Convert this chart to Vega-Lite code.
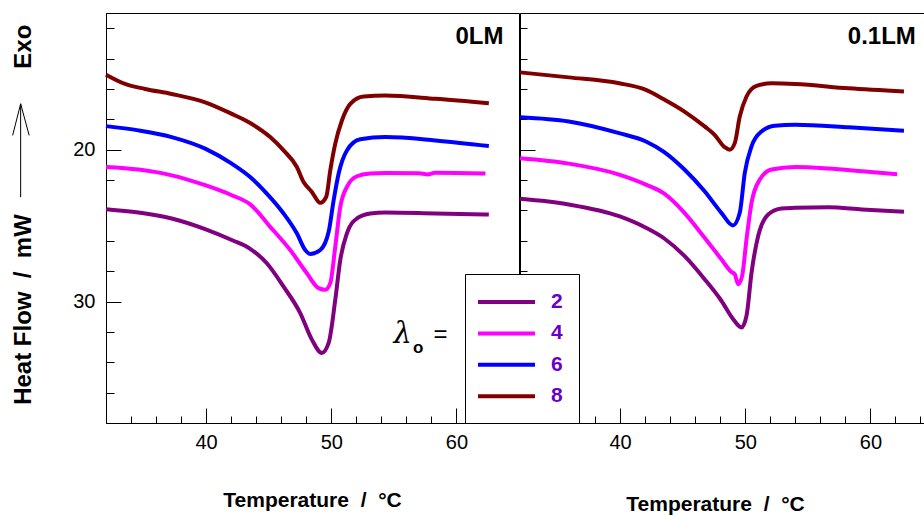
{
  "$schema": "https://vega.github.io/schema/vega-lite/v6.json",
  "autosize": {"type": "pad"},
  "padding": {"left": 10, "top": 12, "right": 0, "bottom": 0},
  "background": "white",
  "spacing": -9,
  "datasets": {
    "curves": [
      {"panel": "0LM", "lam": "2", "T": 32, "HF": 23.92},
      {"panel": "0LM", "lam": "2", "T": 34.59, "HF": 24.14},
      {"panel": "0LM", "lam": "2", "T": 37.25, "HF": 24.53},
      {"panel": "0LM", "lam": "2", "T": 39.92, "HF": 25.23},
      {"panel": "0LM", "lam": "2", "T": 42.05, "HF": 25.95},
      {"panel": "0LM", "lam": "2", "T": 43.52, "HF": 26.53},
      {"panel": "0LM", "lam": "2", "T": 44.85, "HF": 27.48},
      {"panel": "0LM", "lam": "2", "T": 46.19, "HF": 29.02},
      {"panel": "0LM", "lam": "2", "T": 47.52, "HF": 30.76},
      {"panel": "0LM", "lam": "2", "T": 48.45, "HF": 32.51},
      {"panel": "0LM", "lam": "2", "T": 49.25, "HF": 33.39},
      {"panel": "0LM", "lam": "2", "T": 49.79, "HF": 32.73},
      {"panel": "0LM", "lam": "2", "T": 50.32, "HF": 29.89},
      {"panel": "0LM", "lam": "2", "T": 50.72, "HF": 27.26},
      {"panel": "0LM", "lam": "2", "T": 51.25, "HF": 25.51},
      {"panel": "0LM", "lam": "2", "T": 52.05, "HF": 24.53},
      {"panel": "0LM", "lam": "2", "T": 53.12, "HF": 24.2},
      {"panel": "0LM", "lam": "2", "T": 54.32, "HF": 24.13},
      {"panel": "0LM", "lam": "2", "T": 58.32, "HF": 24.2},
      {"panel": "0LM", "lam": "2", "T": 62.59, "HF": 24.27},

      {"panel": "0LM", "lam": "4", "T": 32, "HF": 21.14},
      {"panel": "0LM", "lam": "4", "T": 34.59, "HF": 21.31},
      {"panel": "0LM", "lam": "4", "T": 37.25, "HF": 21.69},
      {"panel": "0LM", "lam": "4", "T": 39.92, "HF": 22.34},
      {"panel": "0LM", "lam": "4", "T": 42.05, "HF": 23.0},
      {"panel": "0LM", "lam": "4", "T": 43.52, "HF": 23.6},
      {"panel": "0LM", "lam": "4", "T": 45.12, "HF": 25.08},
      {"panel": "0LM", "lam": "4", "T": 46.72, "HF": 26.61},
      {"panel": "0LM", "lam": "4", "T": 48.05, "HF": 28.14},
      {"panel": "0LM", "lam": "4", "T": 48.99, "HF": 29.12},
      {"panel": "0LM", "lam": "4", "T": 49.52, "HF": 29.23},
      {"panel": "0LM", "lam": "4", "T": 49.92, "HF": 28.79},
      {"panel": "0LM", "lam": "4", "T": 50.32, "HF": 26.39},
      {"panel": "0LM", "lam": "4", "T": 50.72, "HF": 23.77},
      {"panel": "0LM", "lam": "4", "T": 51.25, "HF": 22.45},
      {"panel": "0LM", "lam": "4", "T": 52.05, "HF": 21.75},
      {"panel": "0LM", "lam": "4", "T": 53.12, "HF": 21.57},
      {"panel": "0LM", "lam": "4", "T": 54.32, "HF": 21.53},
      {"panel": "0LM", "lam": "4", "T": 57.0, "HF": 21.55},
      {"panel": "0LM", "lam": "4", "T": 57.7, "HF": 21.63},
      {"panel": "0LM", "lam": "4", "T": 58.3, "HF": 21.52},
      {"panel": "0LM", "lam": "4", "T": 62.32, "HF": 21.57},

      {"panel": "0LM", "lam": "6", "T": 32, "HF": 18.45},
      {"panel": "0LM", "lam": "6", "T": 34.59, "HF": 18.73},
      {"panel": "0LM", "lam": "6", "T": 37.25, "HF": 19.17},
      {"panel": "0LM", "lam": "6", "T": 39.92, "HF": 19.93},
      {"panel": "0LM", "lam": "6", "T": 42.05, "HF": 20.92},
      {"panel": "0LM", "lam": "6", "T": 43.52, "HF": 21.8},
      {"panel": "0LM", "lam": "6", "T": 44.85, "HF": 22.89},
      {"panel": "0LM", "lam": "6", "T": 46.19, "HF": 24.2},
      {"panel": "0LM", "lam": "6", "T": 47.25, "HF": 25.51},
      {"panel": "0LM", "lam": "6", "T": 47.92, "HF": 26.61},
      {"panel": "0LM", "lam": "6", "T": 48.32, "HF": 26.87},
      {"panel": "0LM", "lam": "6", "T": 49.12, "HF": 26.61},
      {"panel": "0LM", "lam": "6", "T": 49.79, "HF": 25.41},
      {"panel": "0LM", "lam": "6", "T": 50.19, "HF": 23.33},
      {"panel": "0LM", "lam": "6", "T": 50.59, "HF": 21.57},
      {"panel": "0LM", "lam": "6", "T": 51.25, "HF": 20.05},
      {"panel": "0LM", "lam": "6", "T": 52.32, "HF": 19.32},
      {"panel": "0LM", "lam": "6", "T": 54.32, "HF": 19.17},
      {"panel": "0LM", "lam": "6", "T": 58.32, "HF": 19.39},
      {"panel": "0LM", "lam": "6", "T": 62.59, "HF": 19.76},

      {"panel": "0LM", "lam": "8", "T": 32, "HF": 15.06},
      {"panel": "0LM", "lam": "8", "T": 33.52, "HF": 15.67},
      {"panel": "0LM", "lam": "8", "T": 35.12, "HF": 16.0},
      {"panel": "0LM", "lam": "8", "T": 37.25, "HF": 16.33},
      {"panel": "0LM", "lam": "8", "T": 39.92, "HF": 16.88},
      {"panel": "0LM", "lam": "8", "T": 42.05, "HF": 17.64},
      {"panel": "0LM", "lam": "8", "T": 43.52, "HF": 18.24},
      {"panel": "0LM", "lam": "8", "T": 45.12, "HF": 19.17},
      {"panel": "0LM", "lam": "8", "T": 46.19, "HF": 20.05},
      {"panel": "0LM", "lam": "8", "T": 47.25, "HF": 21.14},
      {"panel": "0LM", "lam": "8", "T": 47.79, "HF": 22.13},
      {"panel": "0LM", "lam": "8", "T": 48.45, "HF": 22.78},
      {"panel": "0LM", "lam": "8", "T": 49.12, "HF": 23.5},
      {"panel": "0LM", "lam": "8", "T": 49.6, "HF": 23.1},
      {"panel": "0LM", "lam": "8", "T": 49.92, "HF": 21.36},
      {"panel": "0LM", "lam": "8", "T": 50.32, "HF": 19.6},
      {"panel": "0LM", "lam": "8", "T": 50.85, "HF": 18.08},
      {"panel": "0LM", "lam": "8", "T": 51.52, "HF": 16.98},
      {"panel": "0LM", "lam": "8", "T": 52.59, "HF": 16.5},
      {"panel": "0LM", "lam": "8", "T": 54.32, "HF": 16.44},
      {"panel": "0LM", "lam": "8", "T": 58.32, "HF": 16.65},
      {"panel": "0LM", "lam": "8", "T": 62.59, "HF": 16.94},

      {"panel": "0.1LM", "lam": "2", "T": 32, "HF": 23.24},
      {"panel": "0.1LM", "lam": "2", "T": 35.9, "HF": 23.61},
      {"panel": "0.1LM", "lam": "2", "T": 39.92, "HF": 24.38},
      {"panel": "0.1LM", "lam": "2", "T": 42.06, "HF": 25.14},
      {"panel": "0.1LM", "lam": "2", "T": 43.53, "HF": 25.85},
      {"panel": "0.1LM", "lam": "2", "T": 45.14, "HF": 27.0},
      {"panel": "0.1LM", "lam": "2", "T": 46.75, "HF": 28.53},
      {"panel": "0.1LM", "lam": "2", "T": 48.09, "HF": 29.95},
      {"panel": "0.1LM", "lam": "2", "T": 49.02, "HF": 31.15},
      {"panel": "0.1LM", "lam": "2", "T": 49.7, "HF": 31.71},
      {"panel": "0.1LM", "lam": "2", "T": 50.1, "HF": 30.94},
      {"panel": "0.1LM", "lam": "2", "T": 50.5, "HF": 28.1},
      {"panel": "0.1LM", "lam": "2", "T": 51.03, "HF": 25.69},
      {"panel": "0.1LM", "lam": "2", "T": 51.83, "HF": 24.27},
      {"panel": "0.1LM", "lam": "2", "T": 52.9, "HF": 23.87},
      {"panel": "0.1LM", "lam": "2", "T": 53.98, "HF": 23.83},
      {"panel": "0.1LM", "lam": "2", "T": 56.65, "HF": 23.79},
      {"panel": "0.1LM", "lam": "2", "T": 59.33, "HF": 23.94},
      {"panel": "0.1LM", "lam": "2", "T": 62.68, "HF": 24.09},

      {"panel": "0.1LM", "lam": "4", "T": 32, "HF": 20.57},
      {"panel": "0.1LM", "lam": "4", "T": 35.9, "HF": 20.92},
      {"panel": "0.1LM", "lam": "4", "T": 39.92, "HF": 21.64},
      {"panel": "0.1LM", "lam": "4", "T": 42.06, "HF": 22.3},
      {"panel": "0.1LM", "lam": "4", "T": 43.53, "HF": 22.9},
      {"panel": "0.1LM", "lam": "4", "T": 45.14, "HF": 24.16},
      {"panel": "0.1LM", "lam": "4", "T": 46.75, "HF": 25.8},
      {"panel": "0.1LM", "lam": "4", "T": 48.09, "HF": 27.22},
      {"panel": "0.1LM", "lam": "4", "T": 48.89, "HF": 28.05},
      {"panel": "0.1LM", "lam": "4", "T": 49.16, "HF": 28.2},
      {"panel": "0.1LM", "lam": "4", "T": 49.43, "HF": 28.86},
      {"panel": "0.1LM", "lam": "4", "T": 49.75, "HF": 28.31},
      {"panel": "0.1LM", "lam": "4", "T": 50.1, "HF": 25.9},
      {"panel": "0.1LM", "lam": "4", "T": 50.5, "HF": 23.5},
      {"panel": "0.1LM", "lam": "4", "T": 51.16, "HF": 21.97},
      {"panel": "0.1LM", "lam": "4", "T": 52.1, "HF": 21.31},
      {"panel": "0.1LM", "lam": "4", "T": 53.98, "HF": 21.14},
      {"panel": "0.1LM", "lam": "4", "T": 56.65, "HF": 21.24},
      {"panel": "0.1LM", "lam": "4", "T": 59.33, "HF": 21.42},
      {"panel": "0.1LM", "lam": "4", "T": 62.14, "HF": 21.62},

      {"panel": "0.1LM", "lam": "6", "T": 32, "HF": 17.86},
      {"panel": "0.1LM", "lam": "6", "T": 35.9, "HF": 18.14},
      {"panel": "0.1LM", "lam": "6", "T": 39.92, "HF": 18.91},
      {"panel": "0.1LM", "lam": "6", "T": 42.06, "HF": 19.46},
      {"panel": "0.1LM", "lam": "6", "T": 43.53, "HF": 20.16},
      {"panel": "0.1LM", "lam": "6", "T": 45.14, "HF": 21.31},
      {"panel": "0.1LM", "lam": "6", "T": 46.75, "HF": 22.74},
      {"panel": "0.1LM", "lam": "6", "T": 48.09, "HF": 24.16},
      {"panel": "0.1LM", "lam": "6", "T": 49.02, "HF": 24.99},
      {"panel": "0.1LM", "lam": "6", "T": 49.56, "HF": 24.16},
      {"panel": "0.1LM", "lam": "6", "T": 49.96, "HF": 21.54},
      {"panel": "0.1LM", "lam": "6", "T": 50.5, "HF": 19.78},
      {"panel": "0.1LM", "lam": "6", "T": 51.3, "HF": 18.8},
      {"panel": "0.1LM", "lam": "6", "T": 52.37, "HF": 18.43},
      {"panel": "0.1LM", "lam": "6", "T": 53.98, "HF": 18.36},
      {"panel": "0.1LM", "lam": "6", "T": 58.26, "HF": 18.52},
      {"panel": "0.1LM", "lam": "6", "T": 62.68, "HF": 18.75},

      {"panel": "0.1LM", "lam": "8", "T": 32, "HF": 14.91},
      {"panel": "0.1LM", "lam": "8", "T": 35.9, "HF": 15.24},
      {"panel": "0.1LM", "lam": "8", "T": 39.92, "HF": 15.63},
      {"panel": "0.1LM", "lam": "8", "T": 42.06, "HF": 16.06},
      {"panel": "0.1LM", "lam": "8", "T": 43.53, "HF": 16.7},
      {"panel": "0.1LM", "lam": "8", "T": 45.14, "HF": 17.49},
      {"panel": "0.1LM", "lam": "8", "T": 46.75, "HF": 18.47},
      {"panel": "0.1LM", "lam": "8", "T": 47.55, "HF": 19.02},
      {"panel": "0.1LM", "lam": "8", "T": 48.35, "HF": 19.83},
      {"panel": "0.1LM", "lam": "8", "T": 48.76, "HF": 20.0},
      {"panel": "0.1LM", "lam": "8", "T": 49.16, "HF": 19.57},
      {"panel": "0.1LM", "lam": "8", "T": 49.56, "HF": 17.82},
      {"panel": "0.1LM", "lam": "8", "T": 50.1, "HF": 16.5},
      {"panel": "0.1LM", "lam": "8", "T": 50.9, "HF": 15.8},
      {"panel": "0.1LM", "lam": "8", "T": 52.1, "HF": 15.63},
      {"panel": "0.1LM", "lam": "8", "T": 53.98, "HF": 15.67},
      {"panel": "0.1LM", "lam": "8", "T": 58.26, "HF": 15.96},
      {"panel": "0.1LM", "lam": "8", "T": 62.68, "HF": 16.17}
    ]
  },
  "hconcat": [
    {
      "width": 413,
      "height": 410,
      "layer": [
        {
          "data": {"name": "curves"},
          "transform": [{"filter": "datum.panel == '0LM'"}],
          "mark": {"type": "line", "strokeWidth": 4, "interpolate": "monotone"},
          "encoding": {
            "x": {
              "field": "T", "type": "quantitative",
              "scale": {"domain": [32, 65], "nice": false, "zero": false},
              "axis": {
                "values": [34, 36, 38, 40, 42, 44, 46, 48, 50, 52, 54, 56, 58, 60, 62, 64],
                "tickCount": 100,
                "format": "d",
                "labelExpr": "datum.value % 10 === 0 ? datum.label : ''",
                "tickSize": {"condition": {"test": "datum.value % 10 === 0", "value": -15}, "value": -7},
                "labelPadding": 24,
                "title": "Temperature\u00a0\u00a0/\u00a0\u00a0°C",
                "titleFontSize": 21,
                "titleX": 206,
                "titleY": 77,
                "titleBaseline": "middle"
              }
            },
            "y": {
              "field": "HF", "type": "quantitative",
              "scale": {"domain": [11, 38], "nice": false, "zero": false, "reverse": true},
              "axis": {
                "values": [12, 14, 16, 18, 20, 22, 24, 26, 28, 30, 32, 34, 36],
                "tickCount": 100,
                "format": "d",
                "labelExpr": "datum.value % 10 === 0 ? datum.label : ''",
                "tickSize": {"condition": {"test": "datum.value % 10 === 0", "value": -15}, "value": -8},
                "labelPadding": 26,
                "title": "Heat Flow\u00a0\u00a0/\u00a0\u00a0mW",
                "titleFontSize": 24,
                "titleAngle": 270,
                "titleX": -83,
                "titleY": 296,
                "titleAlign": "center",
                "titleBaseline": "middle"
              }
            },
            "color": {
              "field": "lam", "type": "nominal",
              "scale": {"domain": ["2", "4", "6", "8"], "range": ["#800080", "#ff00ff", "#0000ff", "#800000"]},
              "legend": {
                "orient": "none", "legendX": 359, "legendY": 261, "title": null,
                "zindex": 2
              }
            }
          }
        },
        {
          "data": {"values": [{}]},
          "mark": {"type": "text", "text": "0LM", "align": "right", "baseline": "middle", "font": "Liberation Sans", "fontWeight": "bold", "fontSize": 24, "color": "black"},
          "encoding": {
            "x": {"datum": 63.76, "type": "quantitative"},
            "y": {"datum": 12.56, "type": "quantitative"}
          }
        },
        {
          "data": {"values": [{}]},
          "mark": {"type": "text", "text": "λ", "align": "center", "baseline": "alphabetic", "font": "DejaVu Serif", "fontStyle": "italic", "fontSize": 29, "color": "black"},
          "encoding": {
            "x": {"datum": 55.7, "type": "quantitative"},
            "y": {"datum": 32.71, "type": "quantitative"}
          }
        },
        {
          "data": {"values": [{}]},
          "mark": {"type": "text", "text": "o", "align": "center", "baseline": "alphabetic", "font": "Liberation Sans", "fontWeight": "bold", "fontSize": 17, "color": "black"},
          "encoding": {
            "x": {"datum": 56.95, "type": "quantitative"},
            "y": {"datum": 33.37, "type": "quantitative"}
          }
        },
        {
          "data": {"values": [{}]},
          "mark": {"type": "text", "text": "=", "align": "center", "baseline": "middle", "font": "Liberation Sans", "fontSize": 24, "color": "black"},
          "encoding": {
            "x": {"datum": 58.72, "type": "quantitative"},
            "y": {"datum": 32.2, "type": "quantitative"}
          }
        },
        {
          "data": {"values": [{}]},
          "mark": {"type": "rule", "color": "black", "strokeWidth": 1},
          "encoding": {
            "x": {"datum": 25.18, "type": "quantitative"},
            "y": {"datum": 23.13, "type": "quantitative"},
            "x2": {"datum": 25.18},
            "y2": {"datum": 16.98}
          }
        },
        {
          "data": {"values": [{}]},
          "mark": {"type": "rule", "color": "black", "strokeWidth": 1},
          "encoding": {
            "x": {"datum": 24.54, "type": "quantitative"},
            "y": {"datum": 19.06, "type": "quantitative"},
            "x2": {"datum": 25.18},
            "y2": {"datum": 16.98}
          }
        },
        {
          "data": {"values": [{}]},
          "mark": {"type": "rule", "color": "black", "strokeWidth": 1},
          "encoding": {
            "x": {"datum": 25.86, "type": "quantitative"},
            "y": {"datum": 19.06, "type": "quantitative"},
            "x2": {"datum": 25.18},
            "y2": {"datum": 16.98}
          }
        },
        {
          "data": {"values": [{}]},
          "mark": {"type": "text", "text": "Exo", "angle": 270, "align": "center", "baseline": "middle", "font": "Liberation Sans", "fontWeight": "bold", "fontSize": 24, "color": "black"},
          "encoding": {
            "x": {"datum": 25.44, "type": "quantitative"},
            "y": {"datum": 13.22, "type": "quantitative"}
          }
        }
      ]
    },
    {
      "width": 413,
      "height": 410,
      "layer": [
        {
          "data": {"name": "curves"},
          "transform": [{"filter": "datum.panel == '0.1LM'"}],
          "mark": {"type": "line", "strokeWidth": 4, "interpolate": "monotone"},
          "encoding": {
            "x": {
              "field": "T", "type": "quantitative",
              "scale": {"domain": [32, 65], "nice": false, "zero": false},
              "axis": {
                "values": [34, 36, 38, 40, 42, 44, 46, 48, 50, 52, 54, 56, 58, 60, 62, 64],
                "tickCount": 100,
                "format": "d",
                "labelExpr": "datum.value % 10 === 0 ? datum.label : ''",
                "tickSize": {"condition": {"test": "datum.value % 10 === 0", "value": -15}, "value": -7},
                "labelPadding": 24,
                "title": "Temperature\u00a0\u00a0/\u00a0\u00a0°C",
                "titleFontSize": 21,
                "titleX": 195,
                "titleY": 81,
                "titleBaseline": "middle"
              }
            },
            "y": {
              "field": "HF", "type": "quantitative",
              "scale": {"domain": [11, 38], "nice": false, "zero": false, "reverse": true},
              "axis": {
                "values": [12, 14, 16, 18, 20, 22, 24, 26, 28, 30, 32, 34, 36],
                "tickCount": 100,
                "labels": false,
                "tickSize": {"condition": {"test": "datum.value % 10 === 0", "value": -15}, "value": -7},
                "title": null
              }
            },
            "color": {
              "field": "lam", "type": "nominal",
              "scale": {"domain": ["2", "4", "6", "8"], "range": ["#800080", "#ff00ff", "#0000ff", "#800000"]},
              "legend": {
                "orient": "none", "legendX": 359, "legendY": 261, "title": null,
                "zindex": 2
              }
            }
          }
        },
        {
          "data": {"values": [{}]},
          "mark": {"type": "text", "text": "0.1LM", "align": "right", "baseline": "middle", "font": "Liberation Sans", "fontWeight": "bold", "fontSize": 24, "color": "black"},
          "encoding": {
            "x": {"datum": 63.63, "type": "quantitative"},
            "y": {"datum": 12.56, "type": "quantitative"}
          }
        }
      ]
    }
  ],
  "config": {
    "view": {"stroke": "black", "strokeWidth": 1},
    "axis": {
      "grid": false,
      "minExtent": 0,
      "domainColor": "black",
      "domainWidth": 1,
      "tickColor": "black",
      "tickWidth": 1,
      "labelFont": "Liberation Sans",
      "labelFontSize": 20,
      "labelColor": "black",
      "labelFlush": false,
      "labelOverlap": false,
      "titleFont": "Liberation Sans",
      "titleFontWeight": "bold",
      "titleColor": "black"
    },
    "axisY": {"minExtent": 0},
    "axisX": {"minExtent": 0},
    "legend": {
      "fillColor": "white",
      "strokeColor": "black",
      "padding": 16,
      "symbolType": "M-1.5,0H4.2",
      "symbolSize": 400,
      "symbolStrokeWidth": 4,
      "symbolFillColor": "transparent",
      "labelFont": "Liberation Sans",
      "labelFontSize": 21,
      "labelFontWeight": "bold",
      "labelColor": "#6a00c8",
      "labelOffset": 46,
      "rowPadding": 9.4
    }
  }
}
